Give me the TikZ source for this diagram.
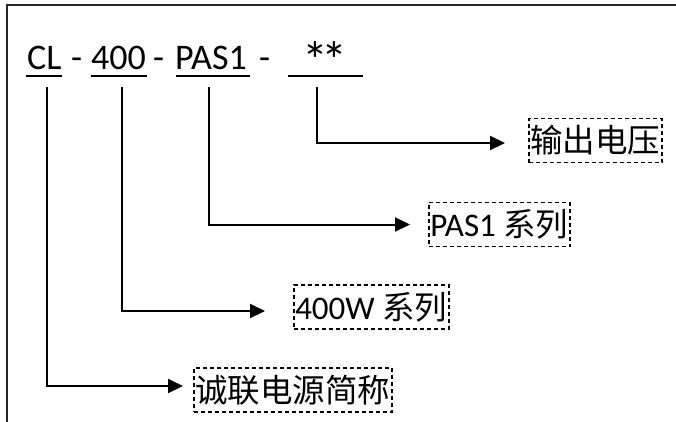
\documentclass[tikz,border=0pt]{standalone}
\usepackage{fontspec}
\setmainfont{Carlito}
\newfontfamily\cjk{Noto Sans CJK SC}
\usetikzlibrary{arrows.meta}
\begin{document}
\begin{tikzpicture}[x=1pt,y=-1pt,
  conn/.style={line width=2pt,-{Triangle[length=15pt,width=14pt]}},
  lab/.style={draw,line width=1.5pt,dash pattern=on 4pt off 3pt,inner xsep=1.5pt,inner ysep=0pt,minimum height=44pt,anchor=west,font=\fontsize{33}{33}\selectfont},
  toptext/.style={inner sep=0pt,anchor=base west,font=\fontsize{36}{36}\selectfont},
  startext/.style={inner sep=0pt,anchor=base west,font=\fontsize{52}{52}\selectfont},
  ul/.style={line width=2pt},
  frame/.style={line width=2.5pt,black!85}]
\useasboundingbox (0,0) rectangle (676,421);
\draw[frame] (7,5) rectangle (720,460);
% top code
\node[toptext] (tCL) at (27,69) {CL};
\node[toptext] (d1) at (71,69) {-};
\node[toptext] (t400) at (91,69) {400};
\node[toptext] (d2) at (153,69) {-};
\node[toptext] (tPAS) at (175,69) {PAS1};
\node[toptext] (d3) at (259,69) {-};
\node[startext] (tStar) at (302,78) {*\kern-7pt*};
\draw[ul] (26,76) -- (62,76);
\draw[ul] (91,76) -- (147,76);
\draw[ul] (176,76) -- (250,76);
\draw[ul] (288,76) -- (363,76);
% connector starts
\coordinate (c1) at (47,87);
\coordinate (c2) at (122,87);
\coordinate (c3) at (209,87);
\coordinate (c4) at (317,87);
% label boxes
\node[lab] (b4) at (528,140.5) {{\cjk\fontsize{32.5}{32.5}\selectfont 输出电压}};
\node[lab] (b3) at (428,224.5) {PAS1 {\cjk\fontsize{32.5}{32.5}\selectfont 系列}};
\node[lab] (b2) at (293,307) {400W {\cjk\fontsize{32.5}{32.5}\selectfont 系列}};
\node[lab] (b1) at (193,390) {{\cjk\fontsize{32.5}{32.5}\selectfont 诚联电源简称}};
% connectors
\draw[conn] (c4) |- ([xshift=-23pt,yshift=-2.5pt]b4.west);
\draw[conn] (c3) |- ([xshift=-18pt]b3.west);
\draw[conn] (c2) |- ([xshift=-28pt,yshift=-4pt]b2.west);
\draw[conn] (c1) |- ([xshift=-10pt,yshift=4pt]b1.west);
\end{tikzpicture}
\end{document}
